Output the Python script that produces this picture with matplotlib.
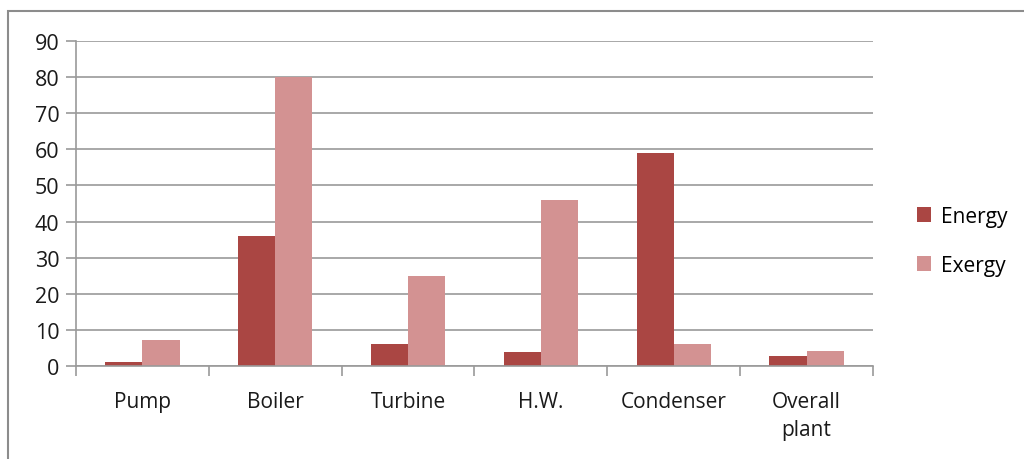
import numpy as np
import matplotlib
matplotlib.use("Agg")
import matplotlib.pyplot as plt
from matplotlib.patches import Rectangle

categories = ["Pump", "Boiler", "Turbine", "H.W.", "Condenser", "Overall\nplant"]
energy = [1.1, 36, 6.1, 3.9, 59, 2.8]
exergy = [7.2, 80, 25, 46, 6, 4.2]

plt.rcParams['font.family'] = ['Open Sans', 'DejaVu Sans']

fig = plt.figure(figsize=(10.24, 4.6), dpi=100)
ax = fig.add_axes([76 / 1024, 1 - 367 / 460, (873 - 76) / 1024, (367 - 42) / 460])

# outer chart frame (runs off the right and bottom edge)
fig.patches.append(Rectangle((8 / 1024, -0.2), 2.0, 1.2 - 12 / 460,
                             transform=fig.transFigure, fill=False,
                             edgecolor='#8c8c8c', linewidth=1.5))

x = np.arange(len(categories))
w = 0.28
ax.bar(x - w / 2, energy, w, color='#AA4643', label='Energy')
ax.bar(x + w / 2, exergy, w, color='#D39292', label='Exergy')

ax.set_xlim(-0.5, len(categories) - 0.5)
ax.set_ylim(0, 90)
ax.set_yticks(range(0, 91, 10))
ax.yaxis.grid(True, color='#9a9a9a', linewidth=1.2)
ax.set_axisbelow(True)

ax.set_xticks(x)
ax.set_xticklabels(categories, fontsize=15, color='#1a1a1a', linespacing=1.45)
ax.set_xticks(np.arange(-0.5, len(categories)), minor=True)
ax.tick_params(axis='x', which='major', length=0, pad=18)
ax.tick_params(axis='x', which='minor', length=7, width=1.2, color='#9a9a9a', direction='out')
ax.tick_params(axis='y', length=7, width=1.2, color='#9a9a9a', labelsize=15.5,
               labelcolor='#1a1a1a', pad=5)

for s in ['top', 'right']:
    ax.spines[s].set_visible(False)
for s in ['left', 'bottom']:
    ax.spines[s].set_color('#9a9a9a')
    ax.spines[s].set_linewidth(1.2)

fig.legend(loc='upper left', bbox_to_anchor=(898 / 1024, 1 - 188 / 460), frameon=False,
           fontsize=15, handlelength=0.7, handleheight=0.7, handletextpad=0.45,
           labelspacing=1.35)

fig.savefig("out.png", dpi=100)
